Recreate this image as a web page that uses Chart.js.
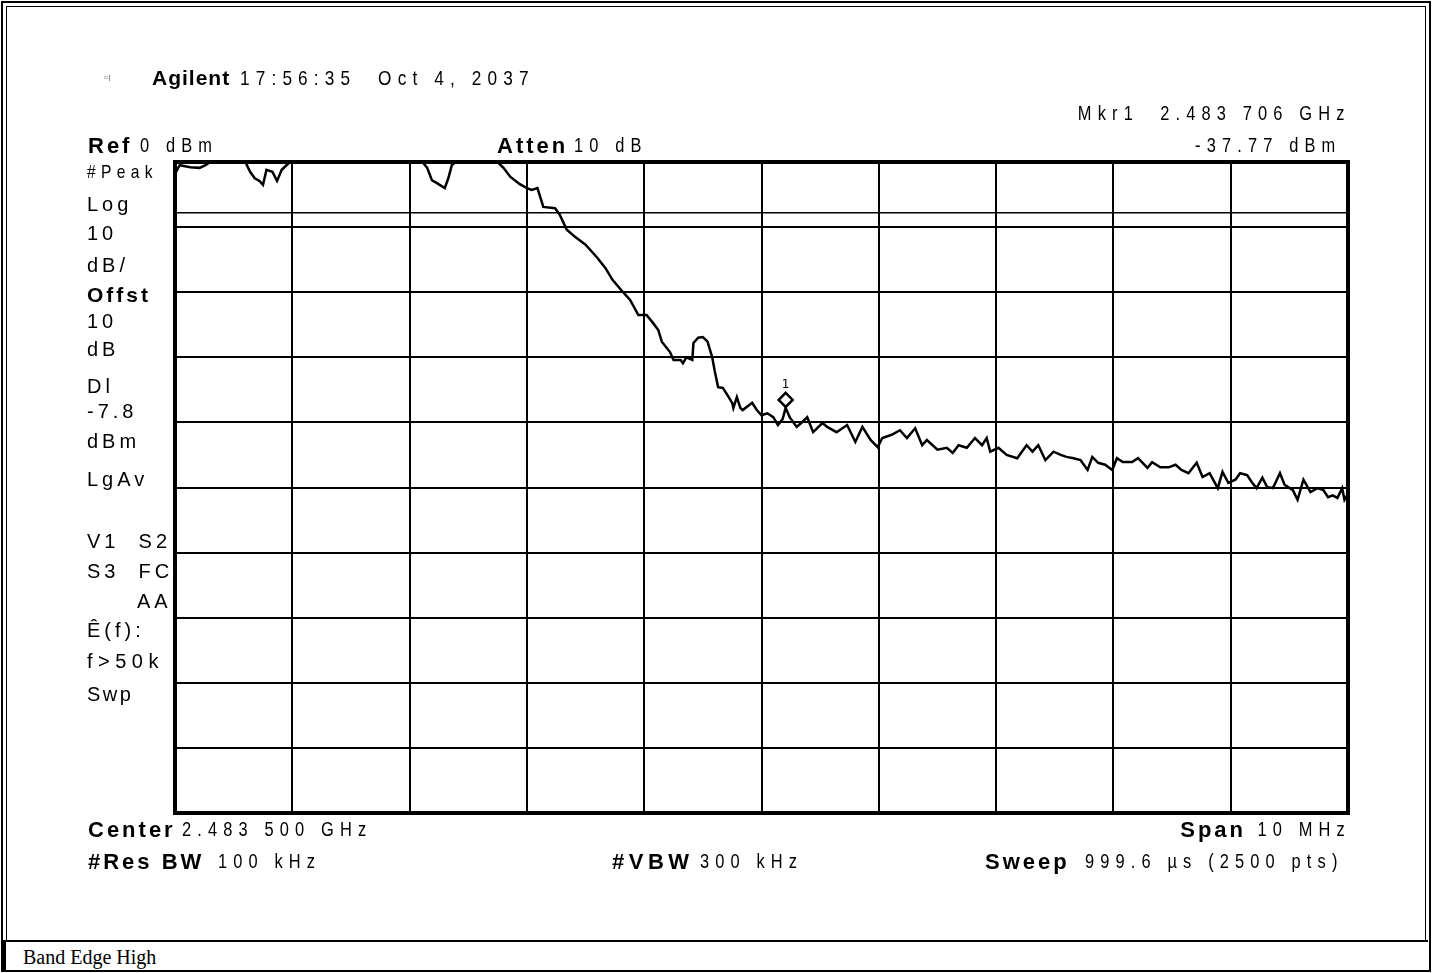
<!DOCTYPE html>
<html>
<head>
<meta charset="utf-8">
<script src="https://cdn.jsdelivr.net/npm/chart.js@4/dist/chart.umd.min.js"></script>
<style>
  html, body { margin: 0; padding: 0; background: #fff; }
  #page { position: relative; width: 1432px; height: 973px; overflow: hidden; font-family: "Liberation Sans", Arial, sans-serif; color: #000; }
  #frameOuter { position: absolute; left: 1px; top: 1px; width: 1426px; height: 967px; border: 2px solid #000; }
  #frameInner { position: absolute; left: 6px; top: 6px; width: 1418px; height: 933px; border-right: 1px solid #000; border-left: 1px solid #000; border-top: 1px solid #000; }
  #caption { position: absolute; left: 3px; top: 940px; width: 1422px; height: 28px; border-top: 2px solid #000; border-left: 3px solid #000; }
  #caption span { position: absolute; left: 17px; top: 4px; font-family: "Liberation Serif", "Times New Roman", serif; font-size: 20px; }
  #chartBox { position: absolute; left: 0; top: 0; width: 1432px; height: 973px; }
  .t { position: absolute; white-space: nowrap; line-height: 1; }
  .b { font-weight: bold; font-size: 22px; letter-spacing: 3px; }
  .n { font-size: 20px; letter-spacing: 7.5px; transform: scaleX(0.82); transform-origin: left center; }
  .nr { font-size: 20px; letter-spacing: 7.5px; transform: scaleX(0.82); transform-origin: right center; }
  .l { font-size: 20px; letter-spacing: 4px; }
</style>
</head>
<body>
<div id="page">
  <div id="frameOuter"></div>
  <div id="frameInner"></div>
  <div id="caption"><span>Band Edge High</span></div>
  <div id="chartBox"><canvas id="spectrum"></canvas></div>

  <div class="t" style="left:104px;top:72px;font-size:11px;color:#888;">▫ı</div>
  <div class="t b" style="left:152px;top:67px;letter-spacing:1px;font-size:21px;">Agilent</div>
  <div class="t n" style="left:240px;top:67px;font-size:21px;">17:56:35&nbsp; Oct 4, 2037</div>

  <div class="t nr" style="right:81px;top:103px;">Mkr1&nbsp; 2.483 706 GHz</div>
  <div class="t nr" style="right:91px;top:135px;">-37.77 dBm</div>

  <div class="t b" style="left:88px;top:135px;">Ref</div>
  <div class="t n" style="left:140px;top:135px;">0 dBm</div>
  <div class="t b" style="left:497px;top:135px;">Atten</div>
  <div class="t n" style="left:574px;top:135px;">10 dB</div>

  <div class="t n" style="left:87px;top:162px;font-size:19px;letter-spacing:6.5px;">#Peak</div>
  <div class="t l" style="left:87px;top:194px;">Log</div>
  <div class="t l" style="left:87px;top:223px;">10</div>
  <div class="t l" style="left:87px;top:255px;">dB/</div>
  <div class="t l" style="left:87px;top:284px;font-weight:bold;font-size:21px;letter-spacing:3px;">Offst</div>
  <div class="t l" style="left:87px;top:311px;">10</div>
  <div class="t l" style="left:87px;top:339px;">dB</div>
  <div class="t l" style="left:87px;top:376px;">Dl</div>
  <div class="t l" style="left:87px;top:401px;">-7.8</div>
  <div class="t l" style="left:87px;top:431px;">dBm</div>
  <div class="t l" style="left:87px;top:469px;">LgAv</div>
  <div class="t l" style="left:87px;top:531px;">V1&nbsp; S2</div>
  <div class="t l" style="left:87px;top:561px;">S3&nbsp; FC</div>
  <div class="t l" style="left:137px;top:591px;">AA</div>
  <div class="t l" style="left:87px;top:620px;">Ê(f):</div>
  <div class="t l" style="left:87px;top:651px;letter-spacing:5.5px;">f&gt;50k</div>
  <div class="t l" style="left:87px;top:684px;letter-spacing:2.5px;">Swp</div>

  <div class="t b" style="left:88px;top:819px;">Center</div>
  <div class="t n" style="left:182px;top:819px;">2.483 500 GHz</div>
  <div class="t b" style="right:186px;top:819px;">Span</div>
  <div class="t nr" style="right:81px;top:819px;">10 MHz</div>
  <div class="t b" style="left:88px;top:851px;">#Res BW</div>
  <div class="t n" style="left:218px;top:851px;">100 kHz</div>
  <div class="t b" style="left:612px;top:851px;letter-spacing:4.5px;">#VBW</div>
  <div class="t n" style="left:700px;top:851px;">300 kHz</div>
  <div class="t b" style="left:985px;top:851px;">Sweep</div>
  <div class="t n" style="left:1085px;top:851px;">999.6 µs (2500 pts)</div>
</div>

<script>
// sweep settings
const startMHz = 2478.5;
const stopMHz = 2488.5;
const refLevel = 0;
const bottomLevel = -100;
const displayLine = -7.8;
const markerFreq = 2483.706;
const markerLevel = -37.77;

// trace (MHz, dBm); values above ref are pinned at 0
const traceFreq = [
    2478.50, 2478.51, 2478.54, 2478.63, 2478.71, 2478.76, 2478.80, 2479.10, 2479.14, 2479.18,
    2479.22, 2479.25, 2479.28, 2479.33, 2479.37, 2479.41, 2479.45, 2479.48, 2480.61, 2480.65,
    2480.69, 2480.73, 2480.80, 2480.83, 2480.86, 2480.89, 2481.25, 2481.30, 2481.36, 2481.44,
    2481.50, 2481.54, 2481.59, 2481.64, 2481.74, 2481.78, 2481.84, 2481.91, 2482.00, 2482.10,
    2482.17, 2482.23, 2482.32, 2482.38, 2482.45, 2482.52, 2482.57, 2482.62, 2482.65, 2482.72,
    2482.75, 2482.81, 2482.83, 2482.86, 2482.91, 2482.92, 2482.96, 2483.00, 2483.04, 2483.08,
    2483.10, 2483.13, 2483.17, 2483.21, 2483.25, 2483.26, 2483.29, 2483.32, 2483.34, 2483.42,
    2483.46, 2483.50, 2483.55, 2483.60, 2483.64, 2483.68, 2483.706, 2483.74, 2483.80, 2483.85,
    2483.89, 2483.94, 2484.02, 2484.06, 2484.14, 2484.23, 2484.30, 2484.36, 2484.43, 2484.49,
    2484.53, 2484.61, 2484.68, 2484.74, 2484.81, 2484.87, 2484.91, 2485.00, 2485.08, 2485.13,
    2485.18, 2485.25, 2485.32, 2485.38, 2485.42, 2485.45, 2485.52, 2485.59, 2485.68, 2485.76,
    2485.81, 2485.86, 2485.92, 2485.99, 2486.05, 2486.10, 2486.16, 2486.22, 2486.28, 2486.32,
    2486.37, 2486.43, 2486.49, 2486.53, 2486.58, 2486.66, 2486.71, 2486.79, 2486.83, 2486.90,
    2486.97, 2487.03, 2487.08, 2487.14, 2487.21, 2487.26, 2487.32, 2487.39, 2487.43, 2487.48,
    2487.54, 2487.58, 2487.64, 2487.68, 2487.72, 2487.77, 2487.81, 2487.86, 2487.92, 2487.96,
    2488.03, 2488.07, 2488.12, 2488.18, 2488.24, 2488.29, 2488.33, 2488.37, 2488.41, 2488.45,
    2488.47, 2488.50
];
const traceLevel = [
    -1.2, -1.5, -0.5, -0.8, -0.9, -0.5, 0, 0, -1.5, -2.5,
    -2.9, -3.5, -1.2, -1.5, -2.9, -1.2, -0.5, 0, 0, -0.9,
    -2.8, -3.2, -4.0, -2.5, -0.5, 0, 0, -0.9, -2.3, -3.4,
    -4.0, -4.3, -4.0, -6.9, -7.1, -8.1, -10.4, -11.5, -12.7, -14.7,
    -16.3, -18.1, -20.0, -21.2, -23.5, -23.5, -24.6, -25.8, -27.6, -29.2,
    -30.4, -30.4, -30.9, -30.0, -30.4, -27.8, -27.0, -26.9, -27.6, -30.0,
    -32.0, -34.6, -34.7, -35.8, -37.0, -37.8, -36.1, -37.8, -38.1, -37.0,
    -38.1, -38.9, -38.6, -39.2, -40.4, -39.5, -37.77, -39.2, -40.7, -39.9,
    -39.2, -41.5, -40.1, -40.7, -41.5, -40.4, -43.0, -40.7, -42.7, -43.8,
    -42.4, -41.9, -41.2, -42.4, -40.9, -43.5, -42.7, -44.2, -43.9, -44.7,
    -43.5, -43.9, -42.4, -43.5, -42.4, -44.5, -43.9, -45.0, -45.5, -43.5,
    -44.5, -43.5, -45.8, -44.5, -45.0, -45.3, -45.5, -45.8, -47.3, -45.3,
    -46.2, -46.5, -47.3, -45.5, -46.1, -46.1, -45.5, -47.0, -46.1, -46.9,
    -46.9, -46.5, -47.3, -47.8, -46.2, -48.4, -47.8, -50.1, -47.6, -49.3,
    -48.8, -47.8, -48.1, -49.2, -50.1, -48.5, -49.9, -50.1, -47.8, -49.6,
    -50.4, -51.9, -48.8, -50.7, -50.1, -50.4, -51.5, -51.2, -51.6, -50.1,
    -51.9, -51.0
];

const tracePoints = traceFreq.map((f, i) => ({ x: f, y: traceLevel[i] }));

// thick frame round the graticule, plus the marker diamond sitting on the peak
const screenPlugin = {
    id: 'screen',
    afterDatasetsDraw(chart) {
        const { ctx, chartArea, scales } = chart;
        ctx.save();
        ctx.strokeStyle = '#000';
        ctx.lineWidth = 4;
        ctx.strokeRect(chartArea.left, chartArea.top, chartArea.right - chartArea.left, chartArea.bottom - chartArea.top);

        const mx = scales.x.getPixelForValue(markerFreq);
        const my = scales.y.getPixelForValue(markerLevel);
        const cy = my - 8;
        ctx.lineWidth = 2.5;
        ctx.fillStyle = '#fff';
        ctx.beginPath();
        ctx.moveTo(mx, cy - 7);
        ctx.lineTo(mx + 7, cy);
        ctx.lineTo(mx, cy + 7);
        ctx.lineTo(mx - 7, cy);
        ctx.closePath();
        ctx.fill();
        ctx.stroke();
        ctx.fillStyle = '#000';
        ctx.font = '12px "DejaVu Sans"';
        ctx.textAlign = 'center';
        ctx.fillText('1', mx, cy - 12);
        ctx.restore();
    }
};

new Chart(document.getElementById('spectrum'), {
    type: 'line',
    data: {
        datasets: [
            {
                label: 'Trace',
                data: tracePoints,
                borderColor: '#000',
                borderWidth: 2.5,
                pointRadius: 0,
                tension: 0
            },
            {
                label: 'Display line',
                data: [{ x: startMHz, y: displayLine }, { x: stopMHz, y: displayLine }],
                borderColor: '#000',
                borderWidth: 1.5,
                pointRadius: 0
            }
        ]
    },
    options: {
        responsive: true,
        maintainAspectRatio: false,
        animation: false,
        layout: { padding: { left: 175, top: 162, right: 84, bottom: 160 } },
        plugins: {
            legend: { display: false },
            tooltip: { enabled: false }
        },
        scales: {
            x: {
                type: 'linear',
                min: startMHz,
                max: stopMHz,
                ticks: { display: false, stepSize: 1 },
                grid: { color: '#000', lineWidth: 2, drawTicks: false },
                border: { display: false }
            },
            y: {
                min: bottomLevel,
                max: refLevel,
                ticks: { display: false, stepSize: 10 },
                grid: { color: '#000', lineWidth: 2, drawTicks: false },
                border: { display: false }
            }
        }
    },
    plugins: [screenPlugin]
});
</script>
</body>
</html>
